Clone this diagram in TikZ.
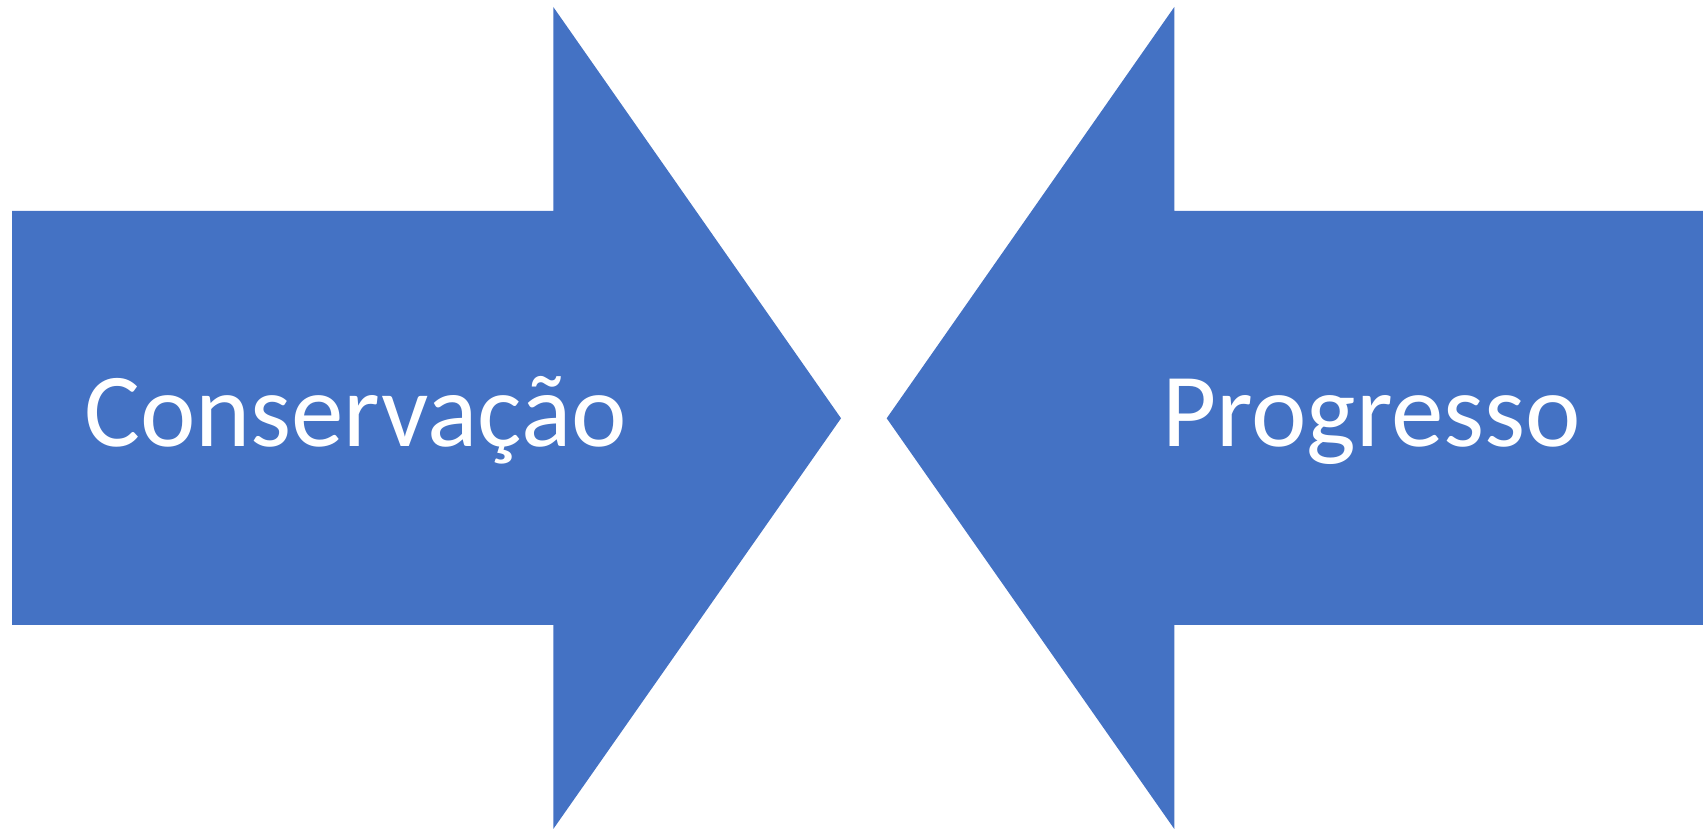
\documentclass[tikz,border=0pt]{standalone}
\usepackage{fontspec}
\setmainfont{Carlito}
\definecolor{arrowblue}{HTML}{4472C4}
\tikzset{
  bigarrow/.style={fill=arrowblue, draw=none},
  label/.style={text=white, inner sep=0pt, anchor=base west, font=\fontsize{105}{112}\selectfont}
}
\begin{document}
\begin{tikzpicture}[x=1pt,y=1pt]
\useasboundingbox (0,0) rectangle (1703,829);
% left arrow (y flipped: Y = 829 - y)
\fill[bigarrow] (12,618) -- (553.3,618) -- (553.3,822) -- (841,410.7) -- (553.3,0) -- (553.3,204) -- (12,204) -- cycle;
% right arrow
\fill[bigarrow] (1703,618) -- (1174.3,618) -- (1174.3,822) -- (886.7,410.7) -- (1174.3,0) -- (1174.3,204) -- (1703,204) -- cycle;
\node[label] (cons) at (84,382) {Conservação};
\node[label] (prog) at (1162,382) {Progresso};
\end{tikzpicture}
\end{document}
